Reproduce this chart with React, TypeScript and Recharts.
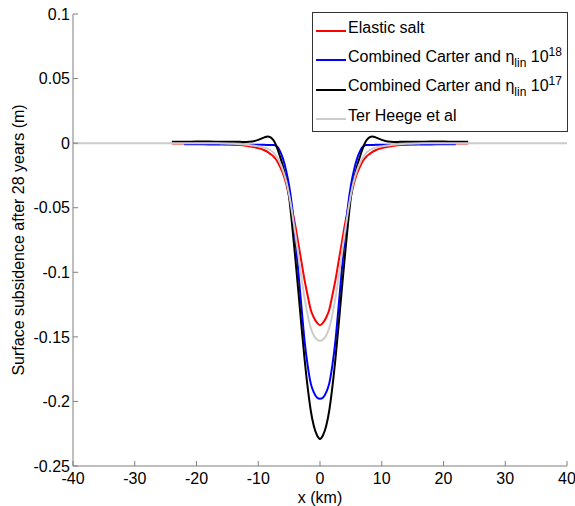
import { LineChart, Line, XAxis, YAxis, Legend } from 'recharts'

// distance along profile (km)
const xKm = [
  -40, -32, -26, -24, -22, -20, -18, -16, -14, -13, -12, -11, -10, -9, -8.5, -8, -7.5, -7, -6.5, -6, -5.5, -5, -4.5, -4, -3.5, -3, -2.5, -2, -1.5, -1, -0.5,
  0,
  0.5, 1, 1.5, 2, 2.5, 3, 3.5, 4, 4.5, 5, 5.5, 6, 6.5, 7, 7.5, 8, 8.5, 9, 10, 11, 12, 13, 14, 16, 18, 20, 22, 24, 26, 32, 40,
]

const elasticSalt = [
  null, null, null, -0.0002, -0.0002, -0.0003, -0.0004, -0.0006, -0.001, -0.0014, -0.002, -0.0028, -0.0038, -0.0055, -0.0068, -0.0085, -0.0105, -0.0135, -0.018, -0.0235, -0.031, -0.041, -0.052, -0.064, -0.078, -0.092, -0.106, -0.118, -0.129, -0.135, -0.139,
  -0.141,
  -0.139, -0.135, -0.129, -0.118, -0.106, -0.092, -0.078, -0.064, -0.052, -0.041, -0.031, -0.0235, -0.018, -0.0135, -0.0105, -0.0085, -0.0068, -0.0055, -0.0038, -0.0028, -0.002, -0.0014, -0.001, -0.0006, -0.0004, -0.0003, -0.0002, -0.0002, null, null, null,
]

const carter18 = [
  null, null, null, null, -0.0008, -0.0008, -0.001, -0.001, -0.001, -0.001, -0.0012, -0.0012, -0.0013, -0.0013, -0.0014, -0.0014, -0.0015, -0.0025, -0.006, -0.012, -0.021, -0.033, -0.05, -0.074, -0.1, -0.127, -0.153, -0.172, -0.186, -0.193, -0.197,
  -0.198,
  -0.197, -0.193, -0.186, -0.172, -0.153, -0.127, -0.1, -0.074, -0.05, -0.033, -0.021, -0.012, -0.006, -0.0025, -0.0015, -0.0014, -0.0014, -0.0013, -0.0013, -0.0012, -0.0012, -0.001, -0.001, -0.001, -0.001, -0.0008, -0.0008, null, null, null, null,
]

const carter17 = [
  null, null, null, 0.001, 0.001, 0.0012, 0.0012, 0.001, 0.001, 0.001, 0.0009, 0.0012, 0.0025, 0.0045, 0.0052, 0.0045, 0.002, -0.003, -0.01, -0.018, -0.028, -0.042, -0.064, -0.089, -0.115, -0.142, -0.167, -0.189, -0.207, -0.219, -0.226,
  -0.229,
  -0.226, -0.219, -0.207, -0.189, -0.167, -0.142, -0.115, -0.089, -0.064, -0.042, -0.028, -0.018, -0.01, -0.003, 0.002, 0.0045, 0.0052, 0.0045, 0.0025, 0.0012, 0.0009, 0.001, 0.001, 0.001, 0.0012, 0.0012, 0.001, 0.001, null, null, null,
]

const terHeege = [
  0, 0, 0, 0, 0, 0, 0, -0.0002, -0.0005, -0.0008, -0.0012, -0.0018, -0.0025, -0.0035, -0.0043, -0.0055, -0.0075, -0.0105, -0.015, -0.021, -0.029, -0.04, -0.054, -0.07, -0.087, -0.104, -0.12, -0.133, -0.143, -0.149, -0.152,
  -0.153,
  -0.152, -0.149, -0.143, -0.133, -0.12, -0.104, -0.087, -0.07, -0.054, -0.04, -0.029, -0.021, -0.015, -0.0105, -0.0075, -0.0055, -0.0043, -0.0035, -0.0025, -0.0018, -0.0012, -0.0008, -0.0005, -0.0002, 0, 0, 0, 0, 0, 0, 0,
]

const xTicks = [-40, -30, -20, -10, 0, 10, 20, 30, 40]
const yTicks = [-0.25, -0.2, -0.15, -0.1, -0.05, 0, 0.05, 0.1]

const data = xKm.map((x, i) => ({
  x,
  elastic: elasticSalt[i],
  c18: carter18[i],
  c17: carter17[i],
  heege: terHeege[i],
}))

const FONT = '"Liberation Sans", Arial, sans-serif'
const AXIS = '#7f7f7f'
const FS = 16

const legendRows = [
  { color: '#ff0000', label: <>Elastic salt</> },
  { color: '#0000ff', label: <>Combined Carter and η<sub style={{ fontSize: 12 }}>lin</sub> 10<sup style={{ fontSize: 12 }}>18</sup></> },
  { color: '#000000', label: <>Combined Carter and η<sub style={{ fontSize: 12 }}>lin</sub> 10<sup style={{ fontSize: 12 }}>17</sup></> },
  { color: '#cccccc', label: <>Ter Heege et al</> },
]

function LegendBox() {
  return (
    <div style={{ border: '1px solid #333', background: '#fff', width: 254, height: 118, fontFamily: FONT, fontSize: FS, color: '#000', boxSizing: 'content-box' }}>
      {legendRows.map((r, i) => (
        <div key={i} style={{ display: 'flex', alignItems: 'center', height: 29.5, paddingLeft: 3 }}>
          <span style={{ display: 'inline-block', width: 30, height: 2, background: r.color, marginRight: 2, marginTop: 6 }} />
          <span style={{ whiteSpace: 'nowrap' }}>{r.label}</span>
        </div>
      ))}
    </div>
  )
}

export default function App() {
  return (
    <div style={{ position: 'absolute', left: 0, top: 0, width: 575, height: 506, background: '#fff' }}>
      <LineChart width={575} height={506} data={data} margin={{ top: 14, right: 8, bottom: 10, left: 13 }}>
        <XAxis
          dataKey="x"
          type="number"
          domain={[-40, 40]}
          ticks={xTicks}
          interval={0}
          height={30}
          stroke={AXIS}
          tickSize={-5}
          tickMargin={12}
          tick={{ fill: '#000', fontSize: FS, fontFamily: FONT }}
          label={{
            content: () => (
              <text x={320} y={497} textAnchor="middle" dominantBaseline="central" fontFamily={FONT} fontSize={FS} fill="#000">x (km)</text>
            ),
          }}
        />
        <YAxis
          type="number"
          domain={[-0.25, 0.1]}
          ticks={yTicks}
          interval={0}
          width={60}
          allowDataOverflow
          stroke={AXIS}
          tickSize={-5}
          tickMargin={8}
          tickFormatter={(v: number) => String(Number(v.toFixed(2)))}
          tick={{ fill: '#000', fontSize: FS, fontFamily: FONT }}
          label={{
            content: () => (
              <text x={18} y={240} transform="rotate(-90 18 240)" textAnchor="middle" dominantBaseline="central" fontFamily={FONT} fontSize={FS} fill="#000">
                Surface subsidence after 28 years (m)
              </text>
            ),
          }}
        />
        <Legend
          layout="horizontal"
          verticalAlign="middle"
          align="center"
          wrapperStyle={{ left: 312, top: 12, width: 256, height: 120 }}
          content={() => <LegendBox />}
        />
        <Line type="monotone" dataKey="elastic" stroke="#ff0000" strokeWidth={2} dot={false} isAnimationActive={false} />
        <Line type="monotone" dataKey="c18" stroke="#0000ff" strokeWidth={2} dot={false} isAnimationActive={false} />
        <Line type="monotone" dataKey="c17" stroke="#000000" strokeWidth={2} dot={false} isAnimationActive={false} />
        <Line type="monotone" dataKey="heege" stroke="#cccccc" strokeWidth={2} dot={false} isAnimationActive={false} />
      </LineChart>
    </div>
  )
}
